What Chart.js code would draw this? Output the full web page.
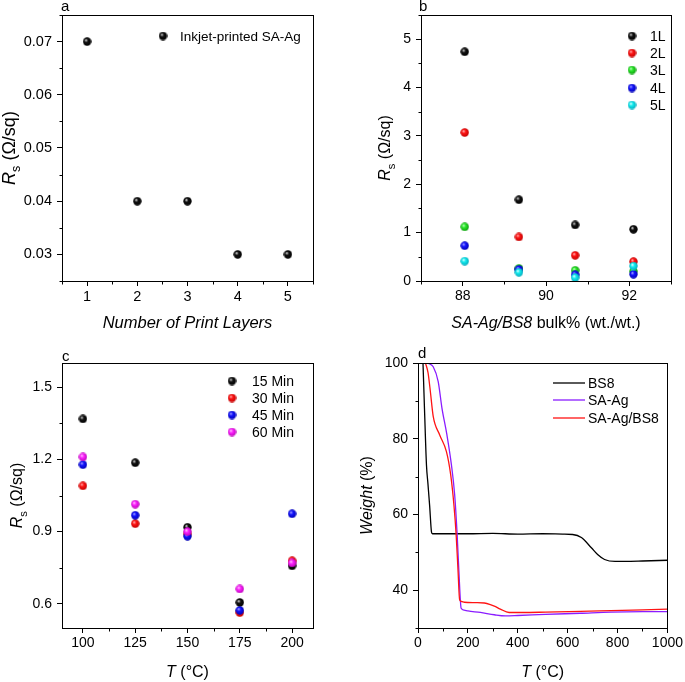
<!DOCTYPE html>
<html>
<head>
<meta charset="utf-8">
<script src="https://cdn.jsdelivr.net/npm/chart.js@4.4.1/dist/chart.umd.min.js"></script>
<style>
  body { margin: 0; background: #fff; }
  #wrap { position: relative; width: 685px; height: 682px; }
  canvas { position: absolute; }
</style>
</head>
<body>
<div id="wrap">
  <canvas id="ca" width="342" height="341" style="left:0;top:0"></canvas>
  <canvas id="cb" width="343" height="341" style="left:342px;top:0"></canvas>
  <canvas id="cc" width="342" height="341" style="left:0;top:341px"></canvas>
  <canvas id="cd" width="343" height="341" style="left:342px;top:341px"></canvas>
</div>
<script>
// ---- panel a: sheet resistance vs print layers
const layers = [1, 2, 3, 4, 5];
const rsLayers = [0.07, 0.04, 0.04, 0.03, 0.03];
const aTicksX = [1, 2, 3, 4, 5];
const aTicksY = [0.03, 0.04, 0.05, 0.06, 0.07];
const aMinorX = [0.5, 1.5, 2.5, 3.5, 4.5, 5.5];
const aMinorY = [0.025, 0.035, 0.045, 0.055, 0.065, 0.075];

// ---- panel b: sheet resistance vs bulk %
const bulk = [88.05, 89.35, 90.7, 92.1];
const bLabels = ['1L', '2L', '3L', '4L', '5L'];
const rs1L = [4.74, 1.68, 1.16, 1.07];
const rs2L = [3.07, 0.91, 0.53, 0.40];
const rs3L = [1.12, 0.26, 0.22, 0.20];
const rs4L = [0.73, 0.24, 0.13, 0.14];
const rs5L = [0.41, 0.18, 0.07, 0.31];
const bTicksX = [88, 90, 92];
const bTicksY = [0, 1, 2, 3, 4, 5];
const bMinorX = [87, 89, 91, 93];
const bMinorY = [0.5, 1.5, 2.5, 3.5, 4.5, 5.5];

// ---- panel c: sheet resistance vs annealing temperature
const temps = [100, 125, 150, 175, 200];
const cLabels = ['15 Min', '30 Min', '45 Min', '60 Min'];
const rs15 = [1.368, 1.186, 0.918, 0.606, 0.758];
const rs30 = [1.090, 0.933, 0.890, 0.564, 0.779];
const rs45 = [1.178, 0.968, 0.881, 0.573, 0.974];
const rs60 = [1.210, 1.014, 0.900, 0.662, 0.770];
const cTicksX = [100, 125, 150, 175, 200];
const cTicksY = [0.6, 0.9, 1.2, 1.5];
const cMinorX = [112.5, 137.5, 162.5, 187.5];
const cMinorY = [0.75, 1.05, 1.35];

// ---- panel d: TGA curves
const bs8T = [20, 26, 34, 40, 47, 54, 58, 100, 200, 300, 400, 500, 580, 620, 655, 695, 720, 748, 790, 830, 900, 1000];
const bs8W = [100, 88, 73, 68, 62, 55.4, 54.9, 54.9, 54.9, 55.0, 54.8, 54.9, 54.8, 54.7, 53.9, 51.2, 49.4, 48.1, 47.6, 47.6, 47.7, 47.9];
const saT = [28, 45, 61, 81, 96, 116, 134, 147, 157, 164, 173, 185, 200, 250, 306, 350, 400, 511, 650, 774, 900, 1000];
const saW = [100, 99.8, 99.0, 95.1, 88.1, 81.0, 73.1, 65.2, 54.6, 44.9, 35.2, 34.7, 34.5, 34.1, 33.5, 33.2, 33.3, 33.6, 33.9, 34.2, 34.3, 34.3];
const mixT = [30, 40, 48, 61, 87, 114, 131, 144, 153, 160, 167, 175, 186, 230, 266, 290, 306, 330, 365, 420, 511, 650, 774, 900, 1000];
const mixW = [100, 97.5, 93.4, 85.9, 81.0, 76.6, 70.5, 62.5, 54.6, 45.8, 37.4, 37.0, 36.8, 36.7, 36.6, 36.2, 35.8, 35.0, 34.1, 34.1, 34.2, 34.4, 34.6, 34.8, 35.0];
const dLabels = ['BS8', 'SA-Ag', 'SA-Ag/BS8'];
const dTicksX = [0, 200, 400, 600, 800, 1000];
const dTicksY = [40, 60, 80, 100];
const dMinorX = [100, 300, 500, 700, 900];
const dMinorY = [30, 50, 70, 90];

const FONT = '"Liberation Sans", Arial, sans-serif';

// shaded ball marker like the original plot
function ball(hi, mid, dark) {
  const c = document.createElement('canvas');
  c.width = c.height = 9;
  const g = c.getContext('2d');
  const grd = g.createRadialGradient(3.2, 3.0, 0.2, 4.5, 4.5, 4.8);
  grd.addColorStop(0, hi);
  grd.addColorStop(0.35, mid);
  grd.addColorStop(1, dark);
  g.fillStyle = grd;
  g.beginPath();
  g.arc(4.5, 4.5, 4.2, 0, Math.PI * 2);
  g.fill();
  return c;
}
const balls = {
  black: ball('#d8d8d8', '#111', '#000'),
  red: ball('#ffb8b8', '#ff1414', '#b80000'),
  green: ball('#c8ffc8', '#2aea2a', '#0a920a'),
  blue: ball('#a8a8ff', '#1414ff', '#0000a8'),
  cyan: ball('#e8ffff', '#14eef0', '#00a0b4'),
  magenta: ball('#ffc8ff', '#ff24ff', '#b000b0')
};

function pts(xs, ys) {
  return xs.map((x, i) => ({ x: x, y: ys[i] }));
}

function axis(min, max, major, fmt, size, pad, fs) {
  return {
    type: 'linear', min: min, max: max,
    afterBuildTicks: s => { s.ticks = major.map(v => ({ value: v })); },
    afterFit: s => { if (s.isHorizontal()) s.height = size; else s.width = size; },
    grid: { drawOnChartArea: false, drawTicks: true, tickLength: 5, tickColor: '#000', tickWidth: 1 },
    border: { display: false },
    ticks: { font: { family: FONT, size: fs || 14 }, color: '#000', padding: pad, autoSkip: false, maxRotation: 0, callback: v => fmt(v) }
  };
}

// draw text made of styled pieces, centred on (x, y baseline)
function rich(ctx, segs, x, y, size, rot) {
  ctx.save();
  ctx.translate(x, y);
  if (rot) ctx.rotate(-Math.PI / 2);
  const fontOf = s => (s.i ? 'italic ' : '') + (s.sub ? size * 0.7 : size) + 'px ' + FONT;
  let w = 0;
  segs.forEach(s => { ctx.font = fontOf(s); w += ctx.measureText(s.t).width; });
  let cx = -w / 2;
  ctx.fillStyle = '#000';
  ctx.textAlign = 'left';
  ctx.textBaseline = 'alphabetic';
  segs.forEach(s => {
    ctx.font = fontOf(s);
    ctx.fillText(s.t, cx, s.sub ? size * 0.3 : 0);
    cx += ctx.measureText(s.t).width;
  });
  ctx.restore();
}

function deco(cfg) {
  return {
    id: 'deco',
    afterDraw(chart) {
      const ctx = chart.ctx, a = chart.chartArea;
      const xs = chart.scales.x, ys = chart.scales.y;
      ctx.save();
      ctx.strokeStyle = '#000';
      ctx.lineWidth = 1;
      const L = Math.round(a.left) + 0.5, T = Math.round(a.top) + 0.5;
      const R = Math.round(a.right) + 0.5, B = Math.round(a.bottom) + 0.5;
      ctx.strokeRect(L, T, R - L, B - T);
      ctx.beginPath();
      cfg.minorX.forEach(v => {
        const px = Math.round(xs.getPixelForValue(v)) + 0.5;
        ctx.moveTo(px, B); ctx.lineTo(px, B + 3);
      });
      cfg.minorY.forEach(v => {
        const py = Math.round(ys.getPixelForValue(v)) + 0.5;
        ctx.moveTo(L, py); ctx.lineTo(L - 3, py);
      });
      ctx.stroke();

      // panel letter
      ctx.fillStyle = '#000';
      ctx.font = '15px ' + FONT;
      ctx.textAlign = 'left';
      ctx.textBaseline = 'alphabetic';
      ctx.fillText(cfg.letter[0], cfg.letter[1], cfg.letter[2]);

      // axis titles
      rich(ctx, cfg.xTitle, (a.left + a.right) / 2, cfg.xTitleY, cfg.xSize || 16, false);
      rich(ctx, cfg.yTitle, cfg.yTitleX, (a.top + a.bottom) / 2, cfg.ySize || 16, true);

      // legend
      const lg = cfg.legend;
      ctx.font = lg.size + 'px ' + FONT;
      ctx.textBaseline = 'middle';
      chart.data.datasets.forEach((ds, i) => {
        const y = lg.ys[i];
        if (lg.line) {
          ctx.strokeStyle = ds.borderColor;
          ctx.lineWidth = 1.3;
          ctx.beginPath();
          ctx.moveTo(lg.x0, y); ctx.lineTo(lg.x1, y);
          ctx.stroke();
        } else {
          ctx.drawImage(ds.pointStyle, lg.x0 - 4.5, y - 4.5);
        }
        ctx.fillStyle = '#000';
        ctx.fillText(ds.label, lg.tx, y + 1);
      });
      ctx.restore();
    }
  };
}

function scatterSet(label, xs, ys, img, order) {
  return { label: label, data: pts(xs, ys), pointStyle: img, pointRadius: 4, order: order };
}

const common = {
  responsive: false,
  animation: false,
  devicePixelRatio: 1,
  events: [],
  plugins: { legend: { display: false }, tooltip: { enabled: false } }
};

const RS = [{ t: 'R', i: true }, { t: 's', sub: true }, { t: ' (\u03A9/sq)' }];

// panel a
new Chart(document.getElementById('ca'), {
  type: 'scatter',
  data: { datasets: [scatterSet('Inkjet-printed SA-Ag', layers, rsLayers, balls.black, 1)] },
  options: Object.assign({}, common, {
    layout: { padding: { top: 15, right: 29, left: 0, bottom: 0 }, autoPadding: false },
    scales: {
      x: axis(0.5, 5.5, aTicksX, v => String(v), 60, 2, 14.5),
      y: axis(0.025, 0.075, aTicksY, v => v.toFixed(2), 62, 5, 14.5)
    }
  }),
  plugins: [deco({
    minorX: aMinorX, minorY: aMinorY, letter: ['a', 61, 11],
    xTitle: [{ t: 'Number of Print Layers', i: true }], xTitleY: 328, xSize: 16.5,
    yTitle: RS, yTitleX: 15, ySize: 18,
    legend: { x0: 163, tx: 180, ys: [36], size: 13.5 }
  })]
});

// panel b
const bBalls = [balls.black, balls.red, balls.green, balls.blue, balls.cyan];
const bSeries = [rs1L, rs2L, rs3L, rs4L, rs5L];
new Chart(document.getElementById('cb'), {
  type: 'scatter',
  data: { datasets: bSeries.map((s, i) => scatterSet(bLabels[i], bulk, s, bBalls[i], 5 - i)) },
  options: Object.assign({}, common, {
    layout: { padding: { top: 15, right: 14, left: 0, bottom: 0 }, autoPadding: false },
    scales: {
      x: axis(87, 93, bTicksX, v => String(v), 60, 2),
      y: axis(0, 5.5, bTicksY, v => String(v), 79, 5)
    }
  }),
  plugins: [deco({
    minorX: bMinorX, minorY: bMinorY, letter: ['b', 77, 11],
    xTitle: [{ t: 'SA-Ag/BS8', i: true }, { t: ' bulk% (wt./wt.)' }], xTitleY: 328,
    yTitle: RS, yTitleX: 48,
    legend: { x0: 290, tx: 308, ys: [36, 53, 70, 88, 105], size: 14 }
  })]
});

// panel c
const cBalls = [balls.black, balls.red, balls.blue, balls.magenta];
const cSeries = [rs15, rs30, rs45, rs60];
new Chart(document.getElementById('cc'), {
  type: 'scatter',
  data: { datasets: cSeries.map((s, i) => scatterSet(cLabels[i], temps, s, cBalls[i], 4 - i)) },
  options: Object.assign({}, common, {
    layout: { padding: { top: 22, right: 29, left: 0, bottom: 0 }, autoPadding: false },
    scales: {
      x: axis(90, 210, cTicksX, v => String(v), 54, 2),
      y: axis(0.5, 1.6, cTicksY, v => v.toFixed(1), 62, 5)
    }
  }),
  plugins: [deco({
    minorX: cMinorX, minorY: cMinorY, letter: ['c', 62, 20],
    xTitle: [{ t: 'T', i: true }, { t: ' (\u00B0C)' }], xTitleY: 336,
    yTitle: RS, yTitleX: 22,
    legend: { x0: 232, tx: 252, ys: [40, 57, 74, 91], size: 14 }
  })]
});

// panel d
const dColors = ['#000000', '#8a1cff', '#ff1414'];
const dSeries = [[bs8T, bs8W], [saT, saW], [mixT, mixW]];
new Chart(document.getElementById('cd'), {
  type: 'scatter',
  data: {
    datasets: dSeries.map((s, i) => ({
      label: dLabels[i], data: pts(s[0], s[1]), showLine: true, pointRadius: 0,
      borderColor: dColors[i], borderWidth: 1.3, cubicInterpolationMode: 'monotone', order: 3 - i
    }))
  },
  options: Object.assign({}, common, {
    layout: { padding: { top: 22, right: 15, left: 0, bottom: 0 }, autoPadding: false },
    scales: {
      x: axis(0, 1000, dTicksX, v => String(v), 54, 2),
      y: axis(30, 100, dTicksY, v => String(v), 76, 5)
    }
  }),
  plugins: [deco({
    minorX: dMinorX, minorY: dMinorY, letter: ['d', 76, 17],
    xTitle: [{ t: 'T', i: true }, { t: ' (\u00B0C)' }], xTitleY: 336,
    yTitle: [{ t: 'Weight', i: true }, { t: ' (%)' }], yTitleX: 30,
    legend: { line: true, x0: 211, x1: 243, tx: 246, ys: [42, 59, 77], size: 14 }
  })]
});
</script>
</body>
</html>
